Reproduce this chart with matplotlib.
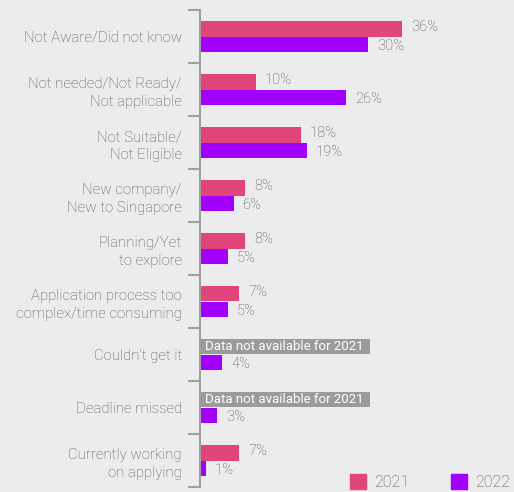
import matplotlib.pyplot as plt
import numpy as np

plt.rcParams['font.family'] = ['Roboto', 'DejaVu Sans']
plt.rcParams['font.weight'] = 'light'

categories = ['Not Aware/Did not know',
              'Not needed/Not Ready/\nNot applicable',
              'Not Suitable/\nNot Eligible',
              'New company/\nNew to Singapore',
              'Planning/Yet\nto explore',
              'Application process too\ncomplex/time consuming',
              'Couldn\u2019t get it',
              'Deadline missed',
              'Currently working\non applying']
v2021 = [36, 10, 18, 8, 8, 7, None, None, 7]
v2022 = [30, 26, 19, 6, 5, 5, 4, 3, 1]
na_text = 'Data not available for 2021'

c2021 = '#E0457B'
c2022 = '#A100FF'
bg = '#ECECEE'
txt = '#555555'

fig = plt.figure(figsize=(5.14, 4.92), dpi=100, facecolor=bg)
ax = fig.add_axes([200 / 514, 5 / 492, 300 / 514, 477 / 492], facecolor=bg)

y = np.arange(len(categories))
h = 0.3

for i, (a, b) in enumerate(zip(v2021, v2022)):
    if a is None:
        ax.barh(i - h / 2, 30.3, height=h, color='#9B9B9B')
        ax.text(0.9, i - h / 2, na_text, va='center', ha='left',
                color='white', fontsize=9.5, fontweight='normal')
    else:
        ax.barh(i - h / 2, a, height=h, color=c2021)
        ax.text(a + 1.6, i - h / 2 - 0.02, f'{a}%', va='center', ha='left',
                color=txt, fontsize=10.5)
    ax.barh(i + h / 2, b, height=h, color=c2022)
    ax.text(b + 1.6, i + h / 2 + 0.02, f'{b}%', va='center', ha='left',
            color=txt, fontsize=10.5)

ax.set_xlim(0, 53.5)
ax.set_ylim(len(categories) - 0.5, -0.5)
ax.set_yticks(y)
ax.set_yticklabels(categories, color=txt, fontsize=10.8, linespacing=1.35)
ax.tick_params(axis='y', which='major', length=0, pad=13)
ax.set_yticks(np.arange(-0.5, len(categories), 1), minor=True)
ax.tick_params(axis='y', which='minor', length=9, width=1.5, color='#A0A0A0')
ax.set_xticks([])
for s in ['top', 'right', 'bottom']:
    ax.spines[s].set_visible(False)
ax.spines['left'].set_color('#A0A0A0')
ax.spines['left'].set_linewidth(1.5)

handles = [plt.Rectangle((0, 0), 1, 1, color=c2021),
           plt.Rectangle((0, 0), 1, 1, color=c2022)]
fig.legend(handles, ['2021', '2022'], loc='lower right', ncol=2,
           bbox_to_anchor=(1.02, -0.025), frameon=False, fontsize=11.5,
           labelcolor=txt, handlelength=1.0, handleheight=1.0,
           columnspacing=2.6, handletextpad=0.5)

fig.savefig('out.png', dpi=100, facecolor=bg)
